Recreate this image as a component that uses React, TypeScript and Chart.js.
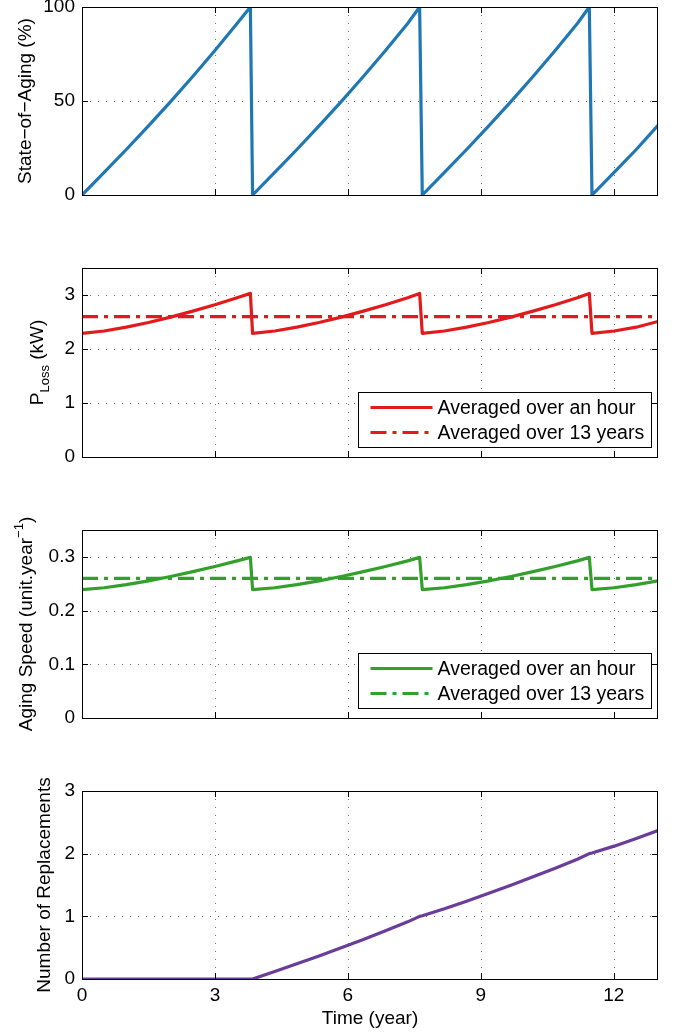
import React, { useEffect, useRef } from "react";
import { Chart, registerables } from "chart.js";

Chart.register(...registerables);

// ---------------- data ----------------
const TIME = [
  0, 0.5, 1, 1.5, 2, 2.5, 3, 3.5, 3.8,
  3.85, 4.35, 4.85, 5.35, 5.85, 6.35, 6.85, 7.35, 7.62,
  7.68, 8.18, 8.68, 9.18, 9.68, 10.18, 10.68, 11.18, 11.45,
  11.51, 12.01, 12.51, 13.0,
];
const SOA = [
  0, 12.0, 24.2, 36.8, 49.7, 63.0, 76.9, 91.2, 100,
  0, 12.0, 24.2, 36.8, 49.7, 63.0, 76.9, 91.2, 100,
  0, 12.0, 24.2, 36.8, 49.7, 63.0, 76.9, 91.2, 100,
  0, 12.0, 24.2, 37.0,
];
const PLOSS = [
  2.29, 2.333, 2.404, 2.491, 2.591, 2.702, 2.821, 2.95, 3.03,
  2.29, 2.333, 2.404, 2.491, 2.591, 2.702, 2.821, 2.95, 3.03,
  2.29, 2.333, 2.404, 2.491, 2.591, 2.702, 2.821, 2.95, 3.03,
  2.29, 2.333, 2.404, 2.51,
];
const SPEED = [
  0.239, 0.2425, 0.2483, 0.2553, 0.2634, 0.2724, 0.2821, 0.2925, 0.299,
  0.239, 0.2425, 0.2483, 0.2553, 0.2634, 0.2724, 0.2821, 0.2925, 0.299,
  0.239, 0.2425, 0.2483, 0.2553, 0.2634, 0.2724, 0.2821, 0.2925, 0.299,
  0.239, 0.2425, 0.2483, 0.2552,
];
const REPL = [
  0, 0, 0, 0, 0, 0, 0, 0, 0,
  0, 0.12, 0.242, 0.368, 0.497, 0.63, 0.769, 0.912, 1.0,
  1.01, 1.12, 1.242, 1.368, 1.497, 1.63, 1.769, 1.912, 2.0,
  2.01, 2.12, 2.242, 2.37,
];
const AVG_TIME = [0, 13];
const PLOSS_AVG = [2.6, 2.6];
const SPEED_AVG = [0.26, 0.26];

const X_TICKS = [0, 3, 6, 9, 12];
const SOA_TICKS = [0, 50, 100];
const PLOSS_TICKS = [0, 1, 2, 3];
const SPEED_TICKS = [0, 0.1, 0.2, 0.3];
const REPL_TICKS = [0, 1, 2, 3];

const LEGEND_LABELS = ["Averaged over an hour", "Averaged over 13 years"];

// ---------------- style ----------------
const FONT = "'Liberation Sans', Arial, Helvetica, sans-serif";
const BLUE = "#1f78b4";
const RED = "#e31a1c";
const GREEN = "#33a02c";
const PURPLE = "#6a3d9a";
const DASHDOT = [16, 6, 4, 6];
const LW = 3.2;

type Part = { t: string; k?: "sub" | "sup" };

function drawRichVertical(ctx: CanvasRenderingContext2D, parts: Part[], cx: number, cy: number, size: number) {
  const small = Math.round(size * 0.7);
  ctx.save();
  ctx.translate(cx, cy);
  ctx.rotate(-Math.PI / 2);
  ctx.fillStyle = "#000";
  ctx.textBaseline = "alphabetic";
  ctx.textAlign = "left";
  const widths = parts.map((p) => {
    ctx.font = `${p.k ? small : size}px ${FONT}`;
    return ctx.measureText(p.t).width;
  });
  const total = widths.reduce((a, b) => a + b, 0);
  let x = -total / 2;
  const base = size * 0.36;
  parts.forEach((p, i) => {
    ctx.font = `${p.k ? small : size}px ${FONT}`;
    const dy = p.k === "sub" ? size * 0.33 : p.k === "sup" ? -size * 0.45 : 0;
    ctx.fillText(p.t, x, base + dy);
    x += widths[i];
  });
  ctx.restore();
}

const matlabPlugin = {
  id: "matlab",
  beforeDatasetsDraw(chart: any, _args: any, opts: any) {
    const { ctx, chartArea: a, scales } = chart;
    const x = scales.x;
    const y = scales.y;
    ctx.save();
    ctx.strokeStyle = "rgba(0,0,0,0.55)";
    ctx.lineWidth = 1;
    ctx.setLineDash([1, 7]);
    X_TICKS.forEach((v) => {
      const px = Math.round(x.getPixelForValue(v)) + 0.5;
      if (px <= a.left + 1 || px >= a.right - 1) return;
      ctx.beginPath();
      ctx.moveTo(px, a.top);
      ctx.lineTo(px, a.bottom);
      ctx.stroke();
    });
    (opts.yTicks as number[]).forEach((v) => {
      const py = Math.round(y.getPixelForValue(v)) + 0.5;
      if (py <= a.top + 1 || py >= a.bottom - 1) return;
      ctx.beginPath();
      ctx.moveTo(a.left, py);
      ctx.lineTo(a.right, py);
      ctx.stroke();
    });
    ctx.restore();
  },
  afterDatasetsDraw(chart: any, _args: any, opts: any) {
    const { ctx, chartArea: a, scales } = chart;
    const x = scales.x;
    const y = scales.y;
    ctx.save();
    ctx.strokeStyle = "#000";
    ctx.lineWidth = 1;
    ctx.setLineDash([]);
    ctx.strokeRect(Math.round(a.left) + 0.5, Math.round(a.top) + 0.5, Math.round(a.right - a.left) - 1, Math.round(a.bottom - a.top));
    const TL = 6;
    ctx.beginPath();
    X_TICKS.forEach((v) => {
      const px = Math.round(x.getPixelForValue(v)) + 0.5;
      ctx.moveTo(px, a.bottom);
      ctx.lineTo(px, a.bottom - TL);
      ctx.moveTo(px, a.top);
      ctx.lineTo(px, a.top + TL);
    });
    (opts.yTicks as number[]).forEach((v) => {
      const py = Math.round(y.getPixelForValue(v)) + 0.5;
      ctx.moveTo(a.left, py);
      ctx.lineTo(a.left + TL, py);
      ctx.moveTo(a.right, py);
      ctx.lineTo(a.right - TL, py);
    });
    ctx.stroke();

    if (opts.legend) {
      const items = chart.data.datasets.filter((d: any) => d.label);
      const bw = 293;
      const bh = 55;
      const bx = Math.round(a.right - 7 - bw) + 0.5;
      const by = Math.round(a.bottom - 10 - bh) + 0.5;
      ctx.fillStyle = "#fff";
      ctx.fillRect(bx, by, bw, bh);
      ctx.strokeStyle = "#000";
      ctx.lineWidth = 1;
      ctx.strokeRect(bx, by, bw, bh);
      ctx.font = `19.5px ${FONT}`;
      ctx.textBaseline = "middle";
      ctx.textAlign = "left";
      items.forEach((d: any, i: number) => {
        const ry = by + 15 + i * 25;
        ctx.strokeStyle = d.borderColor;
        ctx.lineWidth = d.borderWidth;
        ctx.setLineDash(d.borderDash || []);
        ctx.beginPath();
        ctx.moveTo(bx + 12, ry);
        ctx.lineTo(bx + 74, ry);
        ctx.stroke();
        ctx.setLineDash([]);
        ctx.fillStyle = "#000";
        ctx.fillText(d.label, bx + 79, ry + 1);
      });
    }
    ctx.restore();

    drawRichVertical(ctx, opts.yTitle, opts.yTitleX, (a.top + a.bottom) / 2, 19);

    if (opts.xTitle) {
      ctx.save();
      ctx.fillStyle = "#000";
      ctx.font = `19px ${FONT}`;
      ctx.textAlign = "center";
      ctx.textBaseline = "middle";
      ctx.fillText(opts.xTitle, (a.left + a.right) / 2, a.bottom + 40);
      ctx.restore();
    }
  },
};

function series(xs: number[], ys: number[]) {
  return xs.map((t, i) => ({ x: t, y: ys[i] }));
}

type Cfg = {
  datasets: any[];
  yMin: number;
  yMax: number;
  yTicks: number[];
  showX: boolean;
  yTitle: Part[];
  yTitleX: number;
  legend: boolean;
};

function buildConfig(c: Cfg): any {
  return {
    type: "line",
    data: { datasets: c.datasets },
    plugins: [matlabPlugin],
    options: {
      animation: false,
      responsive: false,
      devicePixelRatio: 1,
      layout: { padding: { top: 30, right: 20, bottom: c.showX ? 0 : 20, left: 0 } },
      elements: { point: { radius: 0 }, line: { tension: 0 } },
      plugins: {
        legend: { display: false },
        tooltip: { enabled: false },
        matlab: {
          yTicks: c.yTicks,
          yTitle: c.yTitle,
          yTitleX: c.yTitleX,
          legend: c.legend,
          xTitle: c.showX ? "Time (year)" : null,
        },
      },
      scales: {
        x: {
          type: "linear",
          min: 0,
          max: 13,
          display: c.showX,
          grid: { display: false, drawTicks: false },
          border: { display: false },
          afterBuildTicks: (s: any) => {
            s.ticks = X_TICKS.map((v) => ({ value: v }));
          },
          afterFit: (s: any) => {
            s.height = c.showX ? 57 : 0;
          },
          ticks: {
            font: { family: FONT, size: 19 },
            color: "#000",
            padding: 5,
            maxRotation: 0,
            autoSkip: false,
            callback: (v: any) => String(v),
          },
        },
        y: {
          type: "linear",
          min: c.yMin,
          max: c.yMax,
          grid: { display: false, drawTicks: false },
          border: { display: false },
          afterBuildTicks: (s: any) => {
            s.ticks = c.yTicks.map((v) => ({ value: v }));
          },
          afterFit: (s: any) => {
            s.width = 82;
          },
          ticks: {
            font: { family: FONT, size: 19 },
            color: "#000",
            padding: 7,
            autoSkip: false,
            callback: (v: any) => String(v),
          },
        },
      },
    },
  };
}

function Panel({ top, height, make }: { top: number; height: number; make: () => any }) {
  const ref = useRef<HTMLCanvasElement>(null);
  useEffect(() => {
    const chart = new Chart(ref.current as HTMLCanvasElement, make());
    return () => chart.destroy();
  }, []);
  return (
    <canvas
      ref={ref}
      width={678}
      height={height}
      style={{ position: "absolute", left: 0, top, width: 678, height, display: "block" }}
    />
  );
}

const line = (label: string | undefined, data: any[], color: string, dash?: number[]) => ({
  label,
  data,
  borderColor: color,
  backgroundColor: color,
  borderWidth: LW,
  borderDash: dash || [],
  borderJoinStyle: "round",
  fill: false,
  pointRadius: 0,
});

export default function App() {
  return (
    <div style={{ position: "absolute", left: 0, top: 0, width: 678, height: 1036, overflow: "hidden", background: "#fff" }}>
      <Panel
        top={-23}
        height={238}
        make={() =>
          buildConfig({
            datasets: [line(undefined, series(TIME, SOA), BLUE)],
            yMin: 0,
            yMax: 100,
            yTicks: SOA_TICKS,
            showX: false,
            yTitle: [{ t: "State−of−Aging (%)" }],
            yTitleX: 24,
            legend: false,
          })
        }
      />
      <Panel
        top={238}
        height={239}
        make={() =>
          buildConfig({
            datasets: [
              line(LEGEND_LABELS[0], series(TIME, PLOSS), RED),
              line(LEGEND_LABELS[1], series(AVG_TIME, PLOSS_AVG), RED, DASHDOT),
            ],
            yMin: 0,
            yMax: 3.5,
            yTicks: PLOSS_TICKS,
            showX: false,
            yTitle: [{ t: "P" }, { t: "Loss", k: "sub" }, { t: " (kW)" }],
            yTitleX: 36,
            legend: true,
          })
        }
      />
      <Panel
        top={500}
        height={238}
        make={() =>
          buildConfig({
            datasets: [
              line(LEGEND_LABELS[0], series(TIME, SPEED), GREEN),
              line(LEGEND_LABELS[1], series(AVG_TIME, SPEED_AVG), GREEN, DASHDOT),
            ],
            yMin: 0,
            yMax: 0.35,
            yTicks: SPEED_TICKS,
            showX: false,
            yTitle: [{ t: "Aging Speed (unit.year" }, { t: "−1", k: "sup" }, { t: ")" }],
            yTitleX: 25,
            legend: true,
          })
        }
      />
      <Panel
        top={761}
        height={275}
        make={() =>
          buildConfig({
            datasets: [line(undefined, series(TIME, REPL), PURPLE)],
            yMin: 0,
            yMax: 3,
            yTicks: REPL_TICKS,
            showX: true,
            yTitle: [{ t: "Number of Replacements" }],
            yTitleX: 43,
            legend: false,
          })
        }
      />
    </div>
  );
}
